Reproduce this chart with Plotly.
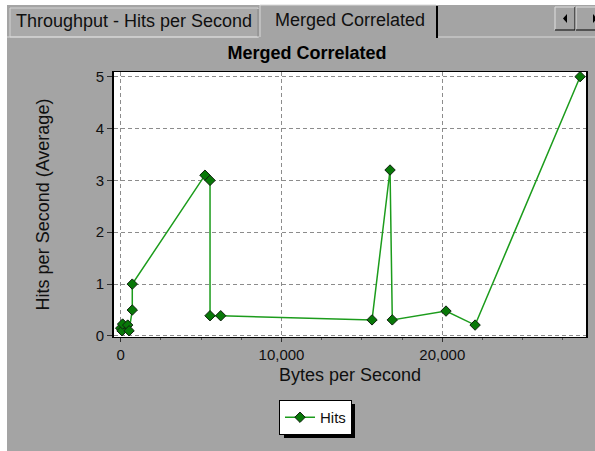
import plotly.graph_objects as go

# data
bytes_per_sec = [0, 80, 120, 435, 520, 720, 720, 5240, 5555, 5555, 6220,
                 15630, 16750, 16890, 20230, 22040, 28570]
hits_avg = [0.15, 0.1, 0.23, 0.21, 0.1, 0.5, 1.0, 3.1, 3.0, 0.39, 0.39,
            0.31, 3.2, 0.31, 0.48, 0.21, 5.0]
x_ticks = [0, 10000, 20000]
x_ticklabels = ["0", "10,000", "20,000"]

W, H = 595, 451
L, R, T, B = 114, 586, 72, 337
GRAY = "#a4a4a4"
FONT = "Liberation Sans"


def px(x):
    return (x - L) / (R - L)


def py(y):
    return (B - y) / (B - T)


def rect(x0, y0, x1, y1, fill=None, line=None, width=1):
    return dict(type="rect", xref="paper", yref="paper",
                x0=px(x0), x1=px(x1), y0=py(y0), y1=py(y1),
                fillcolor=fill or "rgba(0,0,0,0)",
                line=dict(color=line or "rgba(0,0,0,0)", width=width if line else 0))


def seg(x0, y0, x1, y1, color, width=1):
    return dict(type="line", xref="paper", yref="paper",
                x0=px(x0), x1=px(x1), y0=py(y0), y1=py(y1),
                line=dict(color=color, width=width))


fig = go.Figure()

fig.add_trace(go.Scatter(
    x=bytes_per_sec, y=hits_avg, name="Hits",
    mode="lines+markers",
    line=dict(color="#1c9c1c", width=1.5),
    marker=dict(symbol="diamond", size=8, color="#087808",
                line=dict(color="#102010", width=1)),
))

shapes = [
    rect(0, 0, W, 5, fill="white"),
    rect(0, 0, 7, H, fill="white"),
    # inactive tab
    rect(10, 8, 258, 37, fill="#a9a9a9", line="#d4d4d4"),
    seg(258, 9, 258, 37, "#707070"),
    # active tab
    seg(260, 5, 436, 5, "#d8d8d8"),
    seg(260, 5, 260, 37, "#d8d8d8"),
    seg(437, 6, 437, 38, "black", 2),
    seg(7, 37, 259, 37, "#d8d8d8"),
    seg(438, 37, W, 37, "#d8d8d8"),
    # scroll buttons
    rect(555, 7, 575, 30, fill=GRAY),
    seg(555, 7, 575, 7, "#e0e0e0"), seg(555, 7, 555, 30, "#e0e0e0"),
    seg(555, 30, 575, 30, "black"), seg(575, 7, 575, 30, "black"),
    rect(576, 7, 596, 30, fill=GRAY),
    seg(576, 7, 596, 7, "#e0e0e0"), seg(576, 7, 576, 30, "#e0e0e0"),
    seg(576, 30, 596, 30, "black"),
    dict(type="path", xref="paper", yref="paper",
         path=f"M {px(563)},{py(18.5)} L {px(567)},{py(14)} L {px(567)},{py(23)} Z",
         fillcolor="black", line=dict(width=0)),
    dict(type="path", xref="paper", yref="paper",
         path=f"M {px(593)},{py(14)} L {px(597)},{py(18.5)} L {px(593)},{py(23)} Z",
         fillcolor="black", line=dict(width=0)),
    # legend shadow
    rect(284, 404, 355, 438, fill="black"),
]

annotations = [
    dict(text="Throughput - Hits per Second", x=px(134), y=py(21),
         xref="paper", yref="paper", showarrow=False,
         xanchor="center", yanchor="middle",
         font=dict(family=FONT, size=18, color="#101010")),
    dict(text="Merged Correlated", x=px(350), y=py(20),
         xref="paper", yref="paper", showarrow=False,
         xanchor="center", yanchor="middle",
         font=dict(family=FONT, size=18, color="#101010")),
]

fig.update_layout(
    width=W, height=H,
    margin=dict(l=L, r=W - R, t=T, b=H - B, autoexpand=False),
    paper_bgcolor=GRAY, plot_bgcolor="white",
    font=dict(family=FONT, size=15, color="#101010"),
    title=dict(text="<b>Merged Correlated</b>", x=307 / W, xanchor="center",
               y=1 - 53 / H, yanchor="middle", font=dict(size=18, color="black")),
    xaxis=dict(
        range=[-417, 28937], tickvals=x_ticks, ticktext=x_ticklabels,
        showgrid=True, gridcolor="#8c8c8c", griddash="4px,3px", gridwidth=1,
        zeroline=False, showline=True, linecolor="black", linewidth=1, mirror=True,
        ticks="outside", ticklen=4, tickcolor="#303030",
        minor=dict(dtick=2500, ticks="outside", ticklen=2, tickcolor="#505050", showgrid=False),
        title=dict(text="Bytes per Second", standoff=6),
        tickfont=dict(size=15),
    ),
    yaxis=dict(
        range=[-0.02, 5.09], dtick=1,
        showgrid=True, gridcolor="#8c8c8c", griddash="4px,3px", gridwidth=1,
        zeroline=False, showline=True, linecolor="black", linewidth=2, mirror=True,
        ticks="outside", ticklen=5, tickcolor="#303030",
        title=dict(text="Hits per Second (Average)", standoff=41),
        tickfont=dict(size=15),
    ),
    showlegend=True,
    legend=dict(x=px(315.5), xanchor="center", y=py(400), yanchor="top",
                bgcolor="white", bordercolor="black", borderwidth=1,
                itemwidth=30, font=dict(size=15)),
    shapes=shapes,
    annotations=annotations,
)

fig.write_html("out.html", config={"displayModeBar": False},
               post_script="document.body.style.margin='0';")
